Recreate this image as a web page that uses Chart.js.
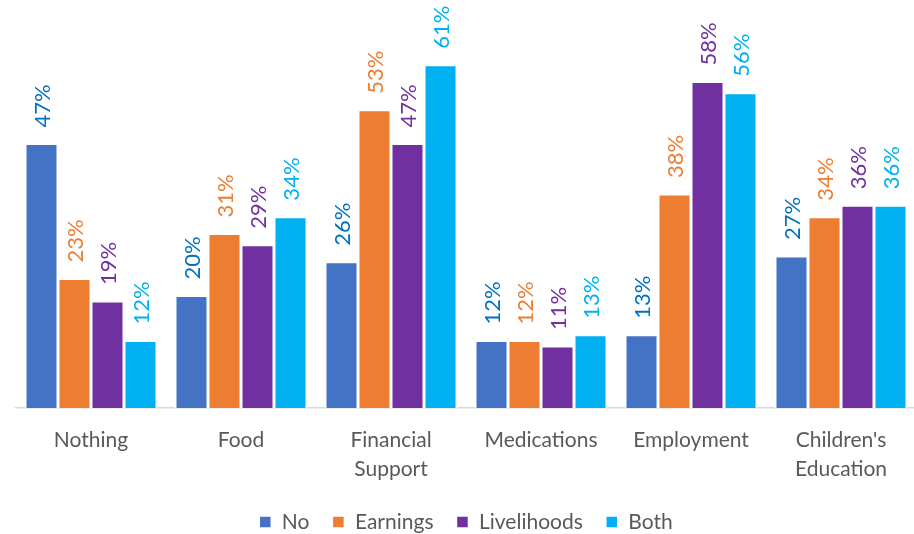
<!DOCTYPE html>
<html>
<head>
<meta charset="utf-8">
<script src="https://cdn.jsdelivr.net/npm/chart.js@4/dist/chart.umd.min.js"></script>
<style>
  html, body { margin: 0; padding: 0; background: #ffffff; overflow: hidden; }
  #wrap { position: relative; width: 916px; height: 534px; }
</style>
</head>
<body>
<div id="wrap"><canvas id="chart"></canvas></div>
<script>
const categories = ['Nothing', 'Food', ['Financial', 'Support'], 'Medications', 'Employment', ["Children's", 'Education']];
const seriesNames = ['No', 'Earnings', 'Livelihoods', 'Both'];
const noValues = [47, 20, 26, 12, 13, 27];
const earningsValues = [23, 31, 53, 12, 38, 34];
const livelihoodsValues = [19, 29, 47, 11, 58, 36];
const bothValues = [12, 34, 61, 13, 56, 36];

const barColors = ['#4472C4', '#ED7D31', '#7030A0', '#00B0F0'];
const labelColors = ['#0070C0', '#ED7D31', '#7030A0', '#00B0F0'];
const FONT = 'Lato, "Open Sans", sans-serif';

const seriesValues = [noValues, earningsValues, livelihoodsValues, bothValues];

// Vertical percentage labels above each bar
const valueLabels = {
  id: 'valueLabels',
  afterDatasetsDraw(chart) {
    const ctx = chart.ctx;
    ctx.save();
    ctx.font = '22px ' + FONT;
    ctx.textAlign = 'left';
    ctx.textBaseline = 'middle';
    chart.data.datasets.forEach((ds, di) => {
      const meta = chart.getDatasetMeta(di);
      ctx.fillStyle = labelColors[di];
      meta.data.forEach((bar, i) => {
        ctx.save();
        ctx.translate(bar.x + 1, bar.y - 16);
        ctx.rotate(-Math.PI / 2);
        ctx.fillText(ds.data[i] + '%', 0, 0);
        ctx.restore();
      });
    });
    ctx.restore();
  }
};

new Chart(document.getElementById('chart'), {
  type: 'bar',
  data: {
    labels: categories,
    datasets: seriesNames.map((name, i) => ({
      label: name,
      data: seriesValues[i],
      backgroundColor: barColors[i],
      borderColor: '#ffffff',
      borderWidth: 1.5,
      borderSkipped: 'bottom',
      barPercentage: 1,
      categoryPercentage: 0.88
    }))
  },
  options: {
    responsive: true,
    maintainAspectRatio: false,
    animation: false,
    layout: { padding: { left: 16, right: 0, top: 14, bottom: -8.5 } },
    scales: {
      x: {
        grid: { display: false, drawTicks: false },
        border: { display: true, color: '#D9D9D9', width: 1.5 },
        ticks: {
          color: '#595959',
          font: { family: FONT, size: 21, lineHeight: 1.38 },
          padding: 18,
          maxRotation: 0,
          autoSkip: false
        },
        afterFit(scale) { scale.height = 80.5; }
      },
      y: {
        display: false,
        min: 0,
        max: 70
      }
    },
    plugins: {
      legend: {
        position: 'bottom',
        labels: {
          color: '#595959',
          font: { family: FONT, size: 21 },
          boxWidth: 12,
          boxHeight: 12,
          padding: 23
        }
      },
      tooltip: { enabled: false }
    }
  },
  plugins: [valueLabels]
});
</script>
</body>
</html>
